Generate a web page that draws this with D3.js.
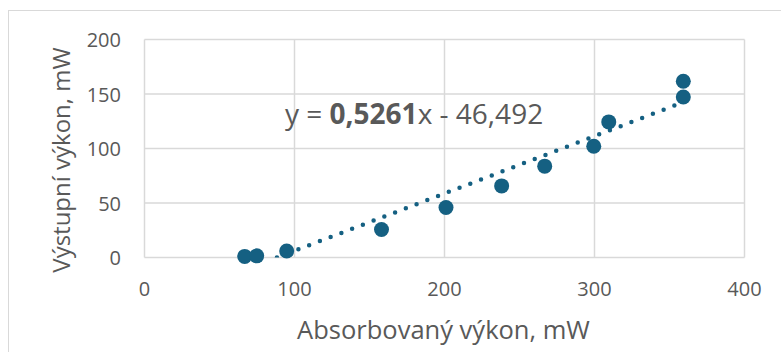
<!DOCTYPE html>
<html>
<head>
<meta charset="utf-8">
<script src="https://cdn.jsdelivr.net/npm/d3@7"></script>
<style>
  body { margin: 0; background: #fff; }
  text { font-family: "Open Sans", sans-serif; fill: #595959; }
</style>
</head>
<body>
<div id="chart"></div>
<script>
// measured points (absorbed power vs output power, mW)
const absorbed = [66.8, 74.8, 94.8, 158, 201, 238.1, 266.8, 299.5, 309.5, 359.2, 359.2];
const output = [1, 1.5, 6, 25.7, 45.9, 65.7, 83.8, 102, 124.4, 161.7, 147.3];

// linear trendline as printed on the chart
const slope = 0.5261;
const intercept = -46.492;

const xTicks = [0, 100, 200, 300, 400];
const yTicks = [0, 50, 100, 150, 200];

const width = 781, height = 352;
const color = "#156082";

const svg = d3.select("#chart").append("svg")
    .attr("width", width)
    .attr("height", height);

// chart area border (runs off right/bottom edges)
svg.append("rect")
    .attr("x", 8.5).attr("y", 10.5)
    .attr("width", 800).attr("height", 400)
    .attr("fill", "#fff")
    .attr("stroke", "#d9d9d9");

const x = d3.scaleLinear().domain([0, 400]).range([144.5, 744.5]);
const y = d3.scaleLinear().domain([0, 200]).range([257.5, 39.5]);

// gridlines
svg.append("g").selectAll("line")
    .data(yTicks)
    .join("line")
    .attr("x1", x(0)).attr("x2", x(400))
    .attr("y1", d => y(d)).attr("y2", d => y(d))
    .attr("stroke", "#d9d9d9").attr("stroke-width", 1.5);

svg.append("g").selectAll("line")
    .data(xTicks)
    .join("line")
    .attr("x1", d => x(d)).attr("x2", d => x(d))
    .attr("y1", y(0)).attr("y2", y(200))
    .attr("stroke", "#d9d9d9").attr("stroke-width", 1.5);

// tick labels
svg.append("g").selectAll("text")
    .data(yTicks)
    .join("text")
    .attr("x", 121)
    .attr("y", d => y(d) + 7.5)
    .attr("text-anchor", "end")
    .attr("font-size", 20)
    .text(d => d);

svg.append("g").selectAll("text")
    .data(xTicks)
    .join("text")
    .attr("x", d => x(d))
    .attr("y", 296)
    .attr("text-anchor", "middle")
    .attr("font-size", 20)
    .text(d => d);

// axis titles
svg.append("text")
    .attr("transform", "translate(70,160) rotate(-90)")
    .attr("text-anchor", "middle")
    .attr("font-size", 24)
    .text("Výstupní výkon, mW");

svg.append("text")
    .attr("x", 443.5).attr("y", 339)
    .attr("text-anchor", "middle")
    .attr("font-size", 25.5)
    .text("Absorbovaný výkon, mW");

// trendline, clipped to the plot area
svg.append("clipPath").attr("id", "plot-clip")
    .append("rect")
    .attr("x", x(0)).attr("y", y(200))
    .attr("width", x(400) - x(0)).attr("height", y(0) - y(200));

const xr = d3.extent(absorbed);
const trend = xr.map(v => [v, slope * v + intercept]);

svg.append("path")
    .datum(trend)
    .attr("clip-path", "url(#plot-clip)")
    .attr("d", d3.line().x(d => x(d[0])).y(d => y(d[1])))
    .attr("fill", "none")
    .attr("stroke", color)
    .attr("stroke-width", 4.5)
    .attr("stroke-linecap", "round")
    .attr("stroke-dasharray", "0,11.5");

// data markers
svg.append("g").selectAll("circle")
    .data(absorbed.map((v, i) => [v, output[i]]))
    .join("circle")
    .attr("cx", d => x(d[0]))
    .attr("cy", d => y(d[1]))
    .attr("r", 7.5)
    .attr("fill", color);

// equation label
const eq = svg.append("text")
    .attr("x", 285).attr("y", 124)
    .attr("font-size", 28);
eq.append("tspan").text("y = ");
eq.append("tspan").attr("font-weight", "bold").text(String(slope).replace(".", ","));
eq.append("tspan").text("x - " + String(-intercept).replace(".", ","));
</script>
</body>
</html>
